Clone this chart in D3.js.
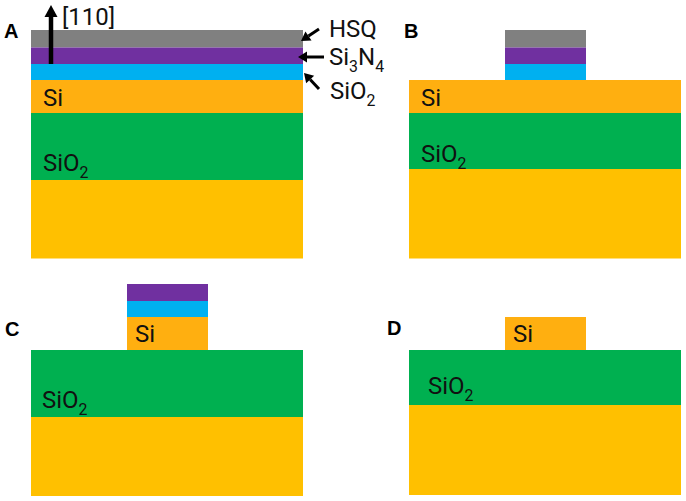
<!DOCTYPE html>
<html>
<head>
<meta charset="utf-8">
<script src="https://cdn.jsdelivr.net/npm/d3@7"></script>
<style>html,body{margin:0;padding:0;background:#fff}svg{display:block}</style>
</head>
<body>
<script>
// Layer order, top to bottom
const layerNames = ["HSQ", "Si3N4", "SiO2 top", "Si", "SiO2 box", "Substrate"];
const layerColors = ["#808080", "#7030a0", "#00b0f0", "#ffaf10", "#00b050", "#ffc000"];

// Layer thicknesses for each panel (0 = layer removed)
const panelNames = ["A", "B", "C", "D"];
const thicknessA = [17.5, 16.5, 16, 33, 67, 78.5];
const thicknessB = [17.5, 16.5, 16, 33, 56, 89.5];
const thicknessC = [0, 17, 16, 33, 67, 79];
const thicknessD = [0, 0, 0, 33, 55, 90];
// How many of the stack's upper layers are etched to a narrow ridge
const ridgeLayersA = 0, ridgeLayersB = 3, ridgeLayersC = 4, ridgeLayersD = 4;

const W = 686, H = 501;
const svg = d3.select("body").append("svg").attr("width", W).attr("height", H);
const fontFamily = "Roboto,'Open Sans',sans-serif";

const frames = [
  {name: "A", t: thicknessA, r: ridgeLayersA, x0: 31,  y0: 30,  lab: [4, 38],
   si: [43, 106], ox: [43, 171]},
  {name: "B", t: thicknessB, r: ridgeLayersB, x0: 409, y0: 30,  lab: [404, 38],
   si: [421, 106], ox: [421, 162]},
  {name: "C", t: thicknessC, r: ridgeLayersC, x0: 31,  y0: 284, lab: [5, 336],
   si: [135, 342], ox: [42, 408]},
  {name: "D", t: thicknessD, r: ridgeLayersD, x0: 409, y0: 317, lab: [387, 335],
   si: [513, 342], ox: [428, 394]}
];

const waferWidth = 272, ridgeStart = 96, ridgeEnd = 177;

frames.forEach(f => {
  const total = d3.sum(f.t);
  const y = d3.scaleLinear().domain([0, total]).range([f.y0, f.y0 + total]);
  const x = d3.scaleLinear().domain([0, 1]).range([f.x0, f.x0 + waferWidth]);
  const rx = d3.scaleLinear().domain([0, 1]).range([f.x0 + ridgeStart, f.x0 + ridgeEnd]);
  const cum = d3.cumsum(f.t);
  const rows = layerNames.map((n, i) => ({
    n, i, top: cum[i] - f.t[i], bot: cum[i], narrow: i < f.r
  })).filter(d => d.bot > d.top);

  svg.append("g").attr("class", "panel-" + f.name)
    .selectAll("rect").data(rows).join("rect")
    .attr("x", d => d.narrow ? rx(0) : x(0))
    .attr("width", d => d.narrow ? rx(1) - rx(0) : x(1) - x(0))
    .attr("y", d => y(d.top))
    .attr("height", d => y(d.bot) - y(d.top))
    .attr("fill", d => layerColors[d.i]);

  svg.append("text").attr("x", f.lab[0]).attr("y", f.lab[1])
    .attr("font-family", "'Liberation Sans',Arial,sans-serif")
    .attr("font-weight", "bold").attr("font-size", 20).attr("fill", "#000").text(f.name);

  label(f.si[0], f.si[1], [["Si", false]]);
  label(f.ox[0], f.ox[1], [["SiO", false], ["2", true]]);
});

function label(x, yy, parts, size = 24) {
  const t = svg.append("text").attr("x", x).attr("y", yy)
    .attr("font-family", fontFamily).attr("font-size", size).attr("fill", "#111");
  parts.forEach(([s, sub], i) => {
    const prevSub = i > 0 && parts[i - 1][1];
    const ts = t.append("tspan").text(s);
    if (sub) ts.attr("dy", 7).attr("font-size", size * 0.66);
    else if (prevSub) ts.attr("dy", -7);
  });
}

label(329, 37, [["HSQ", false]]);
label(329, 65, [["Si", false], ["3", true], ["N", false], ["4", true]]);
label(330, 99, [["SiO", false], ["2", true]]);
label(62, 25, [["[110]", false]], 24);

// Arrows
const arrows = [
  {from: [51, 64], to: [51, 5], w: 4.5, head: 13, len: 12},
  {from: [319, 29], to: [301, 41], w: 3, head: 11, len: 9},
  {from: [324, 57], to: [298, 57], w: 3, head: 11, len: 9},
  {from: [319, 89], to: [304, 73], w: 3, head: 11, len: 9}
];
arrows.forEach(a => {
  const dx = a.to[0] - a.from[0], dy = a.to[1] - a.from[1];
  const L = Math.hypot(dx, dy), ux = dx / L, uy = dy / L, nx = -uy, ny = ux;
  const bx = a.to[0] - ux * a.len, by = a.to[1] - uy * a.len;
  svg.append("line").attr("x1", a.from[0]).attr("y1", a.from[1]).attr("x2", bx).attr("y2", by)
    .attr("stroke", "#000").attr("stroke-width", a.w);
  svg.append("path").attr("fill", "#000").attr("d", d3.line()([
    a.to,
    [bx + nx * a.head / 2, by + ny * a.head / 2],
    [bx - nx * a.head / 2, by - ny * a.head / 2]
  ]) + "Z");
});
</script>
</body>
</html>
